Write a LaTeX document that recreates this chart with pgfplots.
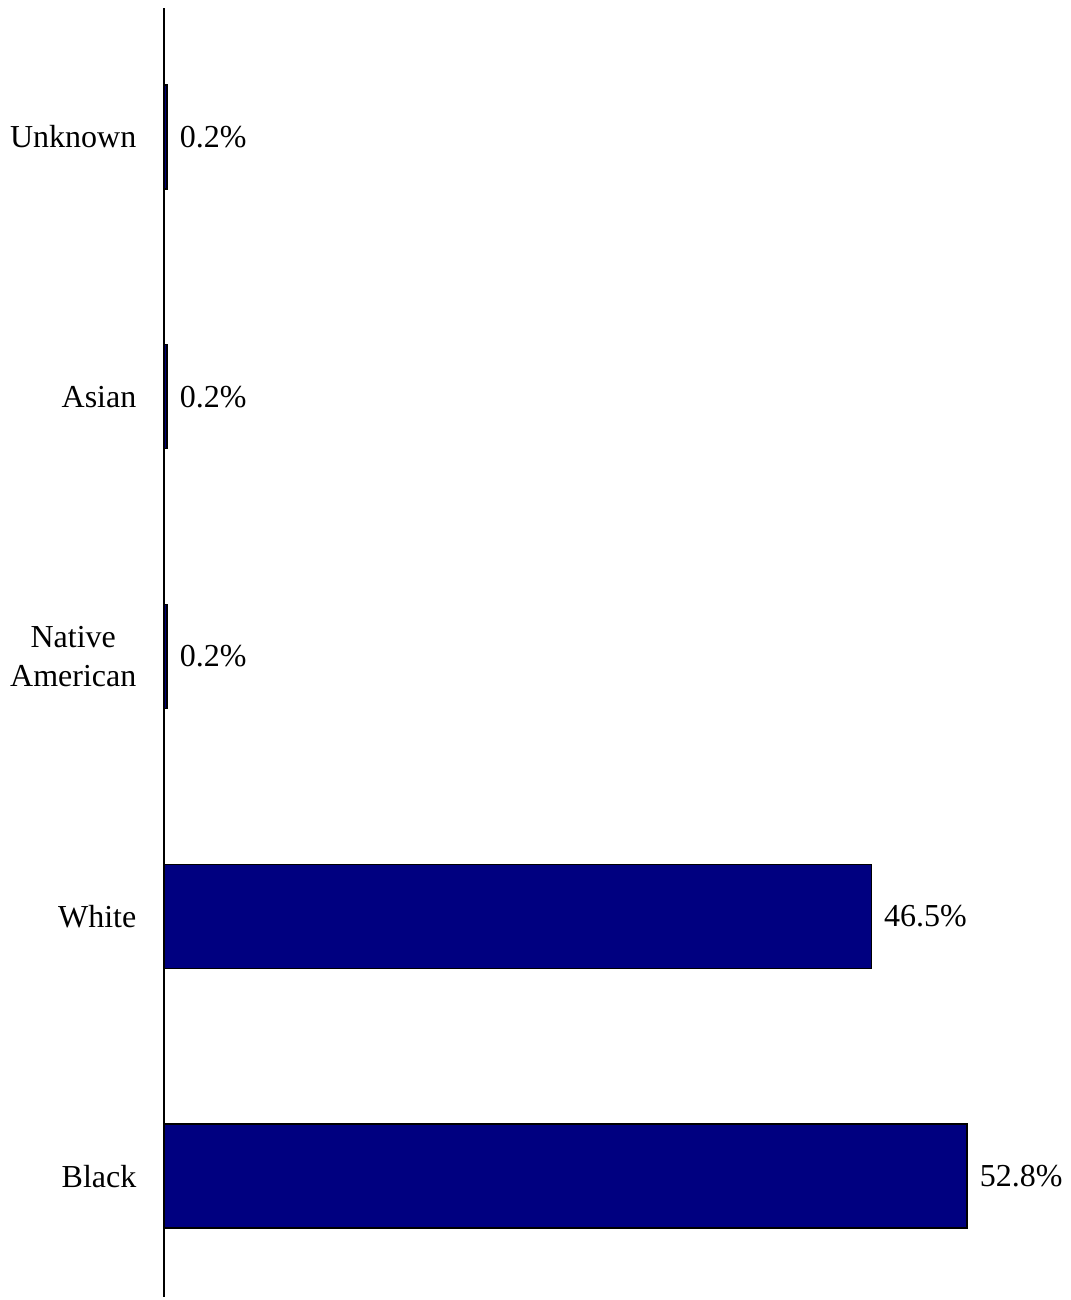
\documentclass[border=0pt]{standalone}
\usepackage{fontspec}
\setmainfont{Liberation Serif}
\usepackage{pgfplots}
\pgfplotsset{compat=1.18}
\definecolor{barnavy}{RGB}{0,0,128}
\begin{document}
\fontsize{9.6}{11.5}\selectfont
\begin{tikzpicture}
\path (-49.2pt,-0.9pt) rectangle (271.8pt,389.1pt);
\begin{axis}[
  at={(0,0)}, anchor=south west,
  scale only axis,
  width=268.8pt, height=386.7pt,
  xbar, bar width=31.2pt,
  xmin=0, xmax=58.9,
  ymin=-0.465, ymax=4.496,
  hide x axis,
  axis y line*=left,
  y axis line style={line width=0.6pt, -},
  ytick={0,1,2,3,4},
  yticklabels={Black,White,{Native\\American},Asian,Unknown},
  major tick length=0pt,
  yticklabel style={align=center, font=\fontsize{9.6}{11.5}\selectfont, inner sep=0pt, xshift=-8.1pt},
  point meta=explicit symbolic,
  nodes near coords,
  nodes near coords style={anchor=west, inner sep=0pt, xshift=3.6pt, font=\fontsize{9.6}{11.5}\selectfont, black},
  clip=false,
]
\addplot[fill=barnavy, draw=black, line width=0.45pt] coordinates {
  (52.8,0) [52.8\%]
  (46.5,1) [46.5\%]
  (0.2,2) [0.2\%]
  (0.2,3) [0.2\%]
  (0.2,4) [0.2\%]
};
\end{axis}
\end{tikzpicture}
\end{document}
